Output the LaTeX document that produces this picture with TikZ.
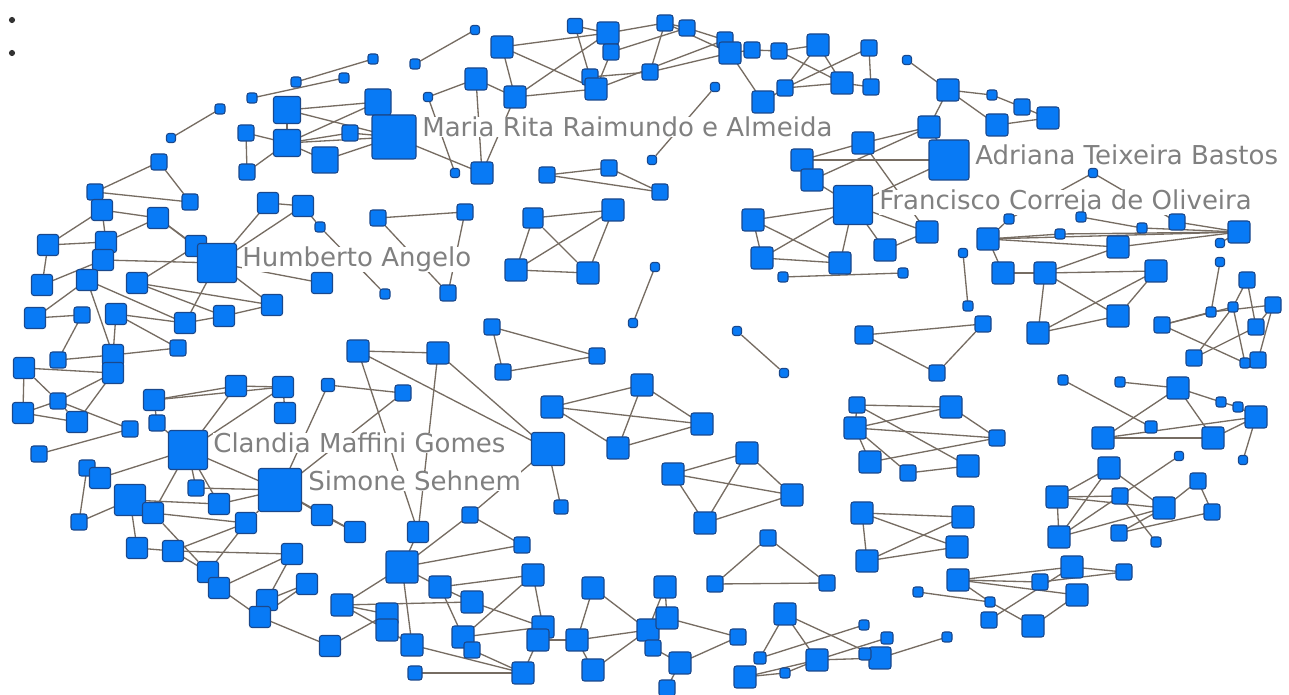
\documentclass[tikz,border=0pt]{standalone}
\usepackage{fontspec}
\setmainfont{DejaVu Sans}
\pgfdeclarelayer{background}
\pgfdeclarelayer{labels}
\pgfsetlayers{background,labels,main}
\definecolor{boxfill}{RGB}{8,122,245}
\definecolor{boxline}{RGB}{26,72,140}
\definecolor{linkcol}{RGB}{118,108,98}
\definecolor{labelgray}{RGB}{128,128,128}
\begin{document}
\begin{tikzpicture}[x=0.02cm,y=-0.02cm,
  box/.style={draw=boxline, fill=boxfill, line width=0.6pt, rounded corners=1.4pt, inner sep=0pt, outer sep=0pt},
  link/.style={draw=linkcol, line width=0.75pt},
  tag/.style={text=labelgray, fill=white, inner sep=0pt, anchor=base west, font=\fontsize{14.8pt}{17pt}\selectfont},
  dot/.style={circle, fill=black!80, inner sep=0pt, minimum size=3.5pt}]
\useasboundingbox (0,0) rectangle (1289,695);

% legend markers
\node[dot] (d1) at (12,20) {};
\node[dot] (d2) at (12,53) {};

% actors: id / x / y / size (px)
\foreach \i/\x/\y/\s in {
1/296/82/10, 2/252/98/10, 3/220/109/10, 4/171/138/9, 5/159/162/16, 6/95/192/16, 7/102/210/21,
8/190/202/16, 9/158/218/21, 10/246/133/16, 11/287/110/27, 12/287/143/27, 13/325/160/26,
14/247/172/16, 15/268/203/21, 16/303/206/21, 17/320/227/10, 18/373/59/10, 19/344/78/10,
20/415/64/10, 21/475/30/9, 22/502/47/22, 23/575/26/15, 24/608/33/22, 25/611/52/16, 26/590/77/16,
27/596/89/22, 28/476/79/22, 29/515/97/22, 30/428/97/9, 31/378/102/26, 32/350/133/16, 33/394/137/44,
35/455/173/9, 36/482/173/22, 37/547/175/16, 38/609/168/16, 39/660/192/16, 40/652/160/9,
41/378/218/16, 42/465/212/16, 43/533/218/20, 44/613/210/22, 45/665/23/16, 46/687/28/16,
47/725/40/16, 48/730/53/22, 49/752/50/16, 50/779/51/16, 51/818/45/22, 52/869/48/16, 53/650/72/16,
54/715/87/9, 55/763/102/22, 56/785/88/16, 57/842/83/22, 58/871/87/16, 59/907/60/9, 60/948/90/22,
61/802/160/22, 62/812/180/22, 63/863/143/22, 64/929/127/22, 65/949/160/40, 66/853/205/39,
67/753/220/22, 68/927/232/22, 69/992/95/10, 70/1022/107/16, 71/1048/118/22, 72/997/125/22,
73/1093/173/9, 74/1009/219/10, 75/1081/217/10, 76/1142/228/10, 77/1177/222/16, 78/1239/232/22,
79/988/239/22, 80/1060/234/10, 81/1118/247/22, 82/1220/243/9, 83/1220/262/9, 84/963/253/9,
85/1003/273/22, 86/1045/273/22, 87/1156/271/22, 88/1118/316/22, 89/1038/333/22, 90/968/306/10,
91/983/324/16, 92/1247/280/16, 93/1273/305/16, 94/1233/307/10, 95/1211/312/10, 96/1162/325/16,
97/1256/327/16, 98/1194/358/16, 99/1258/360/16, 100/1245/363/10, 101/1063/380/10, 102/1120/382/10,
103/1178/388/22, 104/1221/402/10, 105/1238/407/10, 106/1256/417/22, 107/1151/427/12, 108/1103/438/22,
109/1213/438/22, 110/997/438/16, 111/1243/460/9, 112/1179/456/9, 113/885/250/22, 114/840/263/22,
115/762/258/22, 116/783/277/10, 117/903/273/10, 118/655/267/9, 119/633/323/9, 120/737/331/9,
121/784/373/9, 122/864/335/18, 123/937/373/16, 124/857/405/16, 125/855/428/22, 126/951/407/22,
127/870/462/22, 128/968/466/22, 129/908/473/16, 131/862/513/22, 132/867/561/22, 133/963/517/22,
134/957/547/22, 135/958/580/22, 136/918/592/10, 137/1109/468/22, 138/1057/497/22, 139/1120/496/16,
140/1164/508/22, 141/1198/481/16, 142/1212/512/16, 143/1059/537/22, 144/1119/533/16, 145/1156/542/10,
146/1072/567/22, 147/1040/582/16, 148/1124/572/16, 149/1077/595/22, 150/990/602/10, 151/989/620/16,
152/1033/626/22, 153/516/270/22, 154/588/273/22, 155/492/327/16, 156/503/372/16, 157/597/356/16,
158/358/351/22, 159/438/353/22, 160/328/385/13, 161/403/393/16, 162/385/294/10, 163/448/293/16,
164/552/407/22, 165/642/385/22, 166/618/448/22, 167/548/449/33, 168/561/507/14, 169/702/424/22,
170/747/453/22, 171/673/474/22, 172/792/495/22, 173/705/523/22, 174/768/538/16, 175/715/584/16,
176/827/583/16, 177/48/245/21, 178/106/242/21, 179/103/260/21, 180/196/246/21, 181/217/263/39,
182/42/285/21, 183/87/280/21, 184/137/283/21, 185/272/305/21, 186/322/283/21, 187/35/318/21,
188/82/315/16, 189/116/314/21, 190/185/323/21, 191/224/316/21, 192/178/348/16, 193/113/355/21,
194/113/373/21, 195/58/360/16, 196/24/368/21, 197/58/401/16, 198/23/413/21, 199/77/422/21,
200/130/429/16, 201/39/454/16, 202/154/400/21, 203/157/423/16, 204/188/450/39, 205/236/386/21,
206/283/387/21, 207/285/413/21, 209/87/468/16, 210/100/478/21, 211/130/500/31, 212/153/513/21,
213/79/522/16, 214/196/488/16, 215/219/504/21, 216/280/490/43, 217/246/523/21, 218/322/515/21,
219/137/548/21, 220/173/551/21, 221/208/572/21, 222/219/588/21, 223/292/554/21, 224/307/584/21,
225/267/600/21, 226/260/617/21, 227/330/646/21, 228/355/532/21, 229/418/532/21, 230/470/515/16,
231/522/545/16, 232/402/567/32, 233/440/587/22, 234/472/602/22, 235/533/575/22, 236/342/605/22,
237/387/614/22, 238/387/630/22, 240/412/645/22, 241/463/637/22, 242/472/650/16, 243/415/673/14,
244/523/673/22, 245/543/627/22, 246/538/640/22, 247/577/640/22, 248/593/588/22, 249/593/670/22,
250/648/630/22, 251/665/587/22, 252/667/618/22, 254/653/648/16, 255/680/663/22, 256/667/688/16,
257/738/637/16, 258/785/614/22, 259/760/658/12, 260/745/677/22, 261/785/673/10, 262/817/660/22,
263/880/658/22, 264/865/654/12, 265/864/625/10, 266/887/638/12, 267/947/637/10}
  \node[box, minimum size=\s*0.02cm] (n\i) at (\x,\y) {};

% names of the main authors
\begin{pgfonlayer}{labels}
\node[tag] (maria)     at (422,137) {Maria Rita Raimundo e Almeida};
\node[tag] (adriana)   at (975,165) {Adriana Teixeira Bastos};
\node[tag] (francisco) at (879,210) {Francisco Correja de Oliveira};
\node[tag] (humberto)  at (242,267) {Humberto Angelo};
\node[tag] (clandia)   at (213,453) {Clandia Maffini Gomes};
\node[tag] (simone)    at (308,491) {Simone Sehnem};
\end{pgfonlayer}

% co-authorship links
\begin{pgfonlayer}{background}
\fill[white] (0,0) rectangle (1289,695);
\foreach \a/\b in {
1/18, 2/19, 3/4, 5/6, 5/8, 6/8, 6/7, 7/9, 7/177, 7/178, 9/180, 9/181, 9/178, 10/12, 10/14, 14/12,
11/12, 11/31, 11/33, 12/33, 12/32, 12/31, 13/33, 13/12, 32/33, 31/33, 15/16, 15/181, 16/181, 16/17, 17/162,
20/21, 22/24, 22/27, 22/29, 23/24, 23/26, 25/27, 26/27, 28/29, 28/30, 28/36, 29/36, 29/27, 29/24, 30/35,
33/36, 24/45, 25/46, 26/53, 27/47,
37/38, 37/39, 38/39, 54/40, 41/42, 41/163, 42/163, 43/44, 43/153, 43/154, 44/153, 44/154, 153/154,
45/46, 45/48, 45/53, 46/47, 47/48, 48/49, 49/50, 50/51, 48/55, 53/48, 51/57, 51/56, 56/57, 57/58, 52/58,
50/57, 52/56, 55/56, 59/60, 60/64, 60/69, 60/72, 69/70, 70/71, 72/71, 61/63, 61/65, 62/64, 63/64, 63/68,
62/66, 65/66, 66/68, 67/66, 61/62, 64/65,
73/74, 73/77, 75/76, 76/78, 77/78, 80/78, 81/78, 79/78, 79/80, 79/81, 79/85, 85/86, 86/81, 86/87, 86/89,
86/88, 87/89, 87/88, 88/89, 82/78, 83/95, 84/90, 74/79,
96/94, 96/100, 94/92, 92/97, 93/97, 93/99, 98/94, 98/97, 96/95, 95/93, 94/100,
101/107, 102/103, 103/108, 103/109, 103/104, 104/105, 105/106, 108/109, 108/106, 109/106, 106/111,
67/115, 67/114, 115/114, 115/66, 114/66, 113/66, 113/68, 116/117, 118/119, 120/121, 122/123, 122/91, 123/91,
124/126, 124/128, 125/126, 125/129, 125/110, 127/125, 127/110, 129/128, 126/110, 124/125,
131/133, 131/134, 131/132, 132/133, 132/134, 136/150,
135/146, 135/149, 135/150, 150/152, 151/146, 152/149, 147/148, 147/135, 146/148,
137/138, 137/143, 137/140, 112/143, 138/139, 138/140, 138/143, 139/145, 140/141, 141/142, 142/144,
140/143, 140/144,
155/157, 155/156, 156/157, 158/159, 158/229, 158/167, 159/167, 159/229, 160/161, 160/216, 161/216,
164/165, 164/166, 164/169, 165/166, 166/169, 165/169, 167/168,
171/170, 171/172, 171/173, 170/173, 170/172, 173/172, 175/174, 174/176, 175/176,
177/178, 177/182, 179/182, 179/183, 179/181, 183/187, 180/181, 184/180, 184/185, 184/191, 183/193,
183/190, 189/190, 189/193, 189/192, 190/181, 190/191, 191/185, 192/193, 188/195, 195/193, 196/194,
196/198, 196/197, 197/198, 197/199, 197/194, 194/199, 197/200, 198/199, 200/201, 202/205, 202/206,
205/206, 206/204, 205/204, 203/204, 181/185, 181/186, 207/206, 187/188, 193/194, 202/203,
209/210, 209/213, 213/211, 210/204, 211/215, 211/212, 204/214, 204/212, 204/215, 216/214, 216/204,
212/217, 211/219, 219/220, 220/217, 220/223, 220/221, 212/221, 221/222, 222/226, 222/223, 226/224,
225/223, 226/227, 225/224, 217/221, 216/218, 216/228, 218/228, 215/216, 216/217,
229/232, 230/232, 230/231, 232/231, 230/167, 232/236, 232/240, 233/235, 233/234, 233/241, 235/241,
235/245, 234/245, 236/237, 236/234, 227/237, 236/238, 238/240, 243/244, 240/244, 242/244, 241/245,
246/247, 247/248, 247/249, 247/250, 248/250, 246/244, 242/241, 249/250, 232/233,
251/252, 251/250, 252/257, 255/257, 255/254, 255/256, 254/250,
258/259, 258/262, 258/263, 259/265, 260/261, 260/262, 262/263, 262/266, 263/267, 261/262, 264/263}
  \draw[link] (n\a) -- (n\b);
\end{pgfonlayer}
\end{tikzpicture}
\end{document}
